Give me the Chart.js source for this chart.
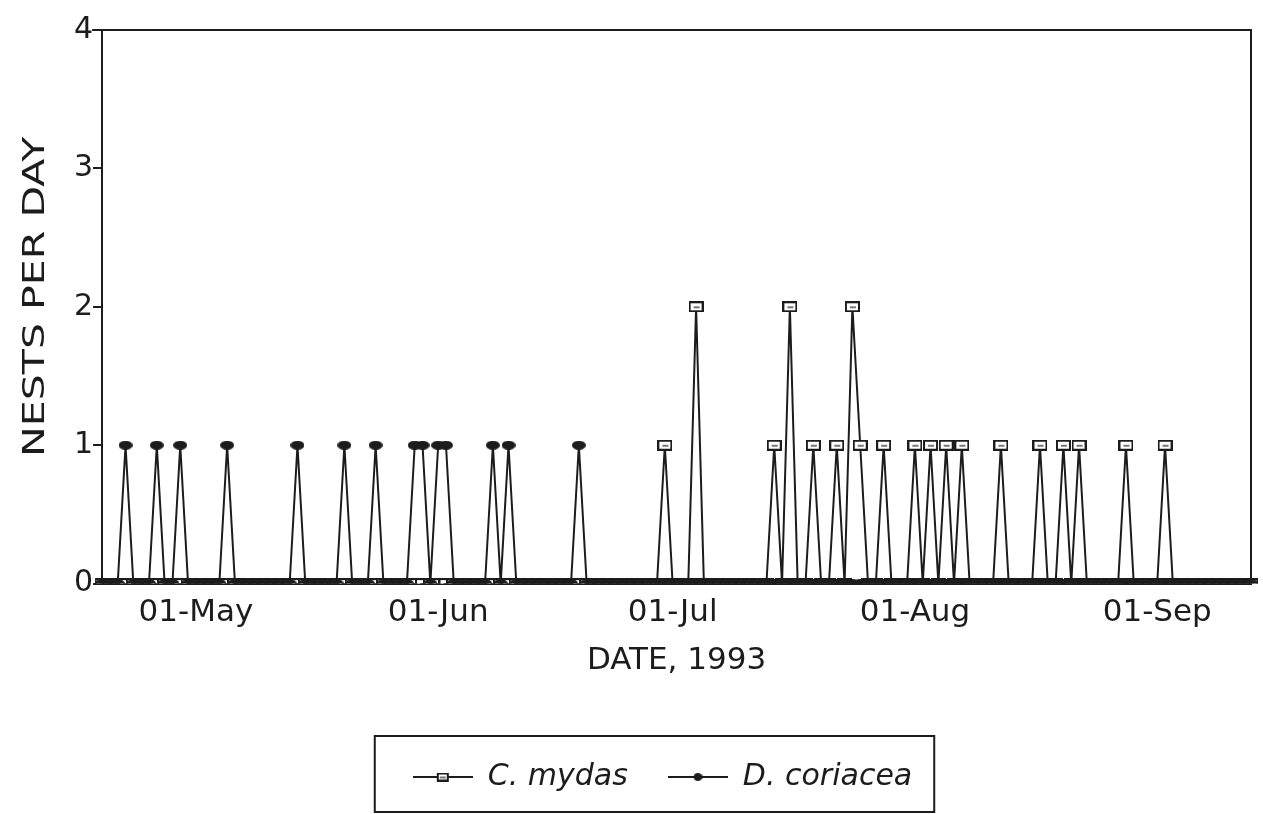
<!DOCTYPE html>
<html>
<head>
<meta charset="utf-8">
<title>Nests per day, 1993</title>
<script src="https://cdn.jsdelivr.net/npm/chart.js@4/dist/chart.umd.min.js"></script>
<style>
  html, body { margin: 0; padding: 0; background: #fff; }
  #wrap { width: 1263px; height: 814px; }
</style>
</head>
<body>
<div id="wrap"><canvas id="nestChart"></canvas></div>
<script>
// Daily counts, 19-Apr-1993 .. 13-Sep-1993 (one value per day)
const firstDay = new Date(1993, 3, 19);

const mydasNests = [
  // Apr 19-30
  0, 0, 0, 0, 0, 0, 0, 0, 0, 0, 0, 0,
  // May
  0, 0, 0, 0, 0, 0, 0, 0, 0, 0, 0, 0, 0, 0, 0, 0, 0, 0, 0, 0,
  0, 0, 0, 0, 0, 0, 0, 0, 0, 0, 0,
  // Jun
  0, 0, 0, 0, 0, 0, 0, 0, 0, 0, 0, 0, 0, 0, 0, 0, 0, 0, 0, 0,
  0, 0, 0, 0, 0, 0, 0, 0, 0, 1,
  // Jul
  0, 0, 0, 2, 0, 0, 0, 0, 0, 0, 0, 0, 0, 1, 0, 2, 0, 0, 1, 0,
  0, 1, 0, 2, 1, 0, 0, 1, 0, 0, 0,
  // Aug
  1, 0, 1, 0, 1, 0, 1, 0, 0, 0, 0, 1, 0, 0, 0, 0, 1, 0, 0, 1,
  0, 1, 0, 0, 0, 0, 0, 1, 0, 0, 0,
  // Sep 1-13
  0, 1, 0, 0, 0, 0, 0, 0, 0, 0, 0, 0, 0
];

const coriaceaNests = [
  // Apr 19-30
  0, 0, 0, 1, 0, 0, 0, 1, 0, 0, 1, 0,
  // May
  0, 0, 0, 0, 1, 0, 0, 0, 0, 0, 0, 0, 0, 1, 0, 0, 0, 0, 0, 1,
  0, 0, 0, 1, 0, 0, 0, 0, 1, 1, 0,
  // Jun
  1, 1, 0, 0, 0, 0, 0, 1, 0, 1, 0, 0, 0, 0, 0, 0, 0, 0, 1, 0,
  0, 0, 0, 0, 0, 0, 0, 0, 0, 0,
  // Jul
  0, 0, 0, 0, 0, 0, 0, 0, 0, 0, 0, 0, 0, 0, 0, 0, 0, 0, 0, 0,
  0, 0, 0, 0, 0, 0, 0, 0, 0, 0, 0,
  // Aug
  0, 0, 0, 0, 0, 0, 0, 0, 0, 0, 0, 0, 0, 0, 0, 0, 0, 0, 0, 0,
  0, 0, 0, 0, 0, 0, 0, 0, 0, 0, 0,
  // Sep 1-13
  0, 0, 0, 0, 0, 0, 0, 0, 0, 0, 0, 0, 0
];

const seriesNames = ["C. mydas", "D. coriacea"];
const xTickLabels = ["01-May", "01-Jun", "01-Jul", "01-Aug", "01-Sep"];
const yTickValues = [0, 1, 2, 3, 4];
const xAxisTitle = "DATE, 1993";
const yAxisTitle = "NESTS PER DAY";

// one category per day, "dd-Mon"
const monthShort = ["Jan", "Feb", "Mar", "Apr", "May", "Jun", "Jul", "Aug", "Sep", "Oct", "Nov", "Dec"];
const dayLabels = mydasNests.map((v, i) => {
  const d = new Date(firstDay.getFullYear(), firstDay.getMonth(), firstDay.getDate() + i);
  return String(d.getDate()).padStart(2, "0") + "-" + monthShort[d.getMonth()];
});

const INK = "#1c1c1c";
const FONT = "'DejaVu Sans', 'Liberation Sans', Arial, sans-serif";

// marker images
function makeSquare(w, h) {
  const c = document.createElement("canvas");
  c.width = w; c.height = h;
  const g = c.getContext("2d");
  g.fillStyle = INK;
  g.fillRect(0, 0, w, h);
  g.fillStyle = "#fff";
  g.fillRect(2, 2, w - 4, h - 4);
  g.fillStyle = "#777";
  g.fillRect(Math.round(w / 2) - 3, Math.round(h / 2) - 1, 6, 2);
  return c;
}

function makeDot(w, h) {
  const c = document.createElement("canvas");
  c.width = w; c.height = h;
  const g = c.getContext("2d");
  g.fillStyle = INK;
  g.beginPath();
  g.ellipse(w / 2, h / 2, w / 2, h / 2, 0, 0, Math.PI * 2);
  g.fill();
  return c;
}

// legend symbols: a short line with the marker in the middle
function makeLegendIcon(marker) {
  const c = document.createElement("canvas");
  c.width = 60; c.height = 16;
  const g = c.getContext("2d");
  g.strokeStyle = INK;
  g.lineWidth = 2;
  g.beginPath();
  g.moveTo(0, 8);
  g.lineTo(60, 8);
  g.stroke();
  g.drawImage(marker, 30 - marker.width / 2, 8 - marker.height / 2);
  return c;
}

const squareMark = makeSquare(15, 11);
const dotMark = makeDot(14, 9);
const legendIcons = [makeLegendIcon(makeSquare(12, 9)), makeLegendIcon(makeDot(9, 8))];

// frame on top and right of the plot, y title, box round the legend
const framePlugin = {
  id: "frame",
  beforeDatasetsDraw(chart) {
    const { ctx, chartArea } = chart;
    ctx.save();
    ctx.strokeStyle = INK;
    ctx.lineWidth = 2;
    ctx.beginPath();
    ctx.moveTo(chartArea.left - 10, chartArea.top);
    ctx.lineTo(chartArea.right, chartArea.top);
    ctx.lineTo(chartArea.right, chartArea.bottom);
    ctx.stroke();
    ctx.restore();
  },
  afterDraw(chart) {
    const { ctx, chartArea } = chart;

    // rotated axis title, stretched along its length like the original
    ctx.save();
    ctx.translate(36, (chartArea.top + chartArea.bottom) / 2 - 10);
    ctx.rotate(-Math.PI / 2);
    ctx.scale(1.37, 1);
    ctx.fillStyle = INK;
    ctx.font = "30px " + FONT;
    ctx.textAlign = "center";
    ctx.textBaseline = "middle";
    ctx.fillText(yAxisTitle, 0, 0);
    ctx.restore();

    const boxes = chart.legend.legendHitBoxes;
    if (!boxes || !boxes.length) return;
    const left = Math.min(...boxes.map(b => b.left)) - 38;
    const right = Math.max(...boxes.map(b => b.left + b.width)) + 22;
    const top = Math.min(...boxes.map(b => b.top)) - 26;
    const bottom = Math.max(...boxes.map(b => b.top + b.height)) + 20;
    ctx.save();
    ctx.strokeStyle = INK;
    ctx.lineWidth = 2;
    ctx.strokeRect(left, top, right - left, bottom - top);
    ctx.restore();
  }
};

const ctx = document.getElementById("nestChart").getContext("2d");
const nestChart = new Chart(ctx, {
  type: "line",
  data: {
    labels: dayLabels,
    datasets: [
      {
        label: seriesNames[0],
        data: mydasNests,
        borderColor: INK,
        borderWidth: 2,
        pointStyle: squareMark,
        pointRadius: 5,
        tension: 0,
        order: 1
      },
      {
        label: seriesNames[1],
        data: coriaceaNests,
        borderColor: INK,
        borderWidth: 2,
        pointStyle: dotMark,
        pointRadius: 5,
        tension: 0,
        order: 0
      }
    ]
  },
  options: {
    responsive: true,
    maintainAspectRatio: false,
    animation: false,
    layout: {
      padding: { left: 74, right: 12, top: 30, bottom: 12 }
    },
    plugins: {
      tooltip: { enabled: false },
      legend: {
        position: "bottom",
        padding: 30,
        labels: {
          usePointStyle: true,
          pointStyleWidth: 60,
          padding: 40,
          color: INK,
          font: { family: FONT, size: 30, style: "italic" },
          generateLabels(chart) {
            const items = Chart.defaults.plugins.legend.labels.generateLabels(chart);
            items.sort((a, b) => a.datasetIndex - b.datasetIndex);
            items.forEach(item => { item.pointStyle = legendIcons[item.datasetIndex]; });
            return items;
          }
        }
      }
    },
    scales: {
      x: {
        type: "category",
        offset: false,
        grid: { display: false },
        border: { display: true, color: INK, width: 2 },
        ticks: {
          autoSkip: false,
          maxRotation: 0,
          padding: 3,
          color: INK,
          font: { family: FONT, size: 31 },
          callback(value) {
            const lab = this.getLabelForValue(value);
            return xTickLabels.includes(lab) ? lab : null;
          }
        },
        title: {
          display: true,
          text: xAxisTitle,
          color: INK,
          font: { family: FONT, size: 31 },
          padding: { top: 8, bottom: 42 }
        }
      },
      y: {
        min: yTickValues[0],
        max: yTickValues[yTickValues.length - 1],
        grid: {
          drawOnChartArea: false,
          drawTicks: true,
          tickLength: 9,
          color: INK,
          lineWidth: 2
        },
        border: { display: true, color: INK, width: 2 },
        ticks: {
          stepSize: 1,
          padding: 0,
          color: INK,
          font: { family: FONT, size: 30 }
        },
        afterBuildTicks(scale) {
          scale.ticks = yTickValues.map(v => ({ value: v }));
        }
      }
    }
  },
  plugins: [framePlugin]
});
</script>
</body>
</html>
